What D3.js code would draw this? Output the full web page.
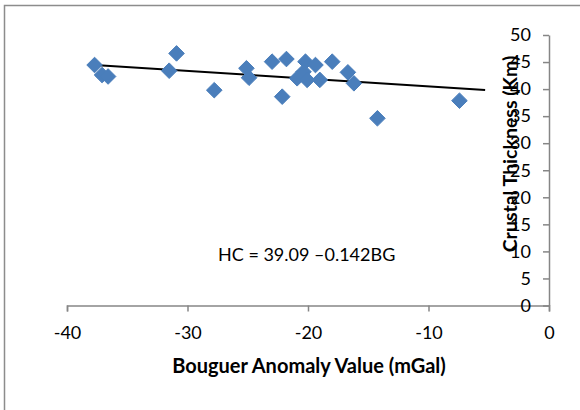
<!DOCTYPE html>
<html><head><meta charset="utf-8">
<script src="https://cdn.jsdelivr.net/npm/d3@7"></script>
<style>body{margin:0;background:#fff}svg{display:block}text{font-family:Lato,"Open Sans",sans-serif}</style>
</head><body>
<svg id="c" width="580" height="410"></svg>
<script>
const bouguer = [-37.71,-37.09,-36.59,-31.52,-30.91,-27.78,-25.11,-24.89,-22.98,-22.14,-21.79,-20.9,-20.37,-20.21,-20.07,-19.38,-19.02,-17.99,-16.69,-16.19,-14.24,-7.43];
const thickness = [44.45,42.6,42.33,43.4,46.6,39.8,43.85,42.1,45.07,38.6,45.56,42.0,43.2,45.07,41.7,44.45,41.7,45.07,43.1,41.07,34.6,37.86];
const xTicks = [-40,-30,-20,-10,0];
const yTicks = [0,5,10,15,20,25,30,35,40,45,50];
const trendIntercept = 39.09, trendSlope = -0.142, trendEnd = -5.3;
const eqLabel = "HC = 39.09 \u20130.142BG";
const xTitle = "Bouguer Anomaly Value (mGal)";
const yTitle = "Crustal Thickness (Km)";

const svg = d3.select("#c");
const x = d3.scaleLinear().domain([-40,0]).range([67,549]);
const y = d3.scaleLinear().domain([0,50]).range([305.5,35]);
const axisCol = "#868686";
const fmt = d => String(d);

// chart border (only top/left visible)
svg.append("rect").attr("x",4.5).attr("y",5.5).attr("width",600).attr("height",420)
  .attr("fill","none").attr("stroke","#8c8c8c").attr("stroke-width",1.5);

// x axis
const gx = svg.append("g").attr("transform",`translate(0,${y(0)})`)
  .call(d3.axisBottom(x).tickValues(xTicks).tickSize(6).tickPadding(15).tickFormat(fmt));
gx.select(".domain").attr("stroke",axisCol).attr("stroke-width",1.5);
gx.selectAll(".tick line").attr("stroke",axisCol).attr("stroke-width",1.5);
gx.selectAll(".tick text").attr("font-size",18).attr("fill","#000").attr("font-family","Lato,sans-serif");

// y axis at x = 0 (right), labels on left
const gy = svg.append("g").attr("transform",`translate(${x(0)},0)`)
  .call(d3.axisLeft(y).tickValues(yTicks).tickSize(0).tickPadding(18).tickFormat(fmt));
gy.select(".domain").attr("stroke",axisCol).attr("stroke-width",1.5);
gy.selectAll(".tick text").attr("font-size",18).attr("fill","#000").attr("font-family","Lato,sans-serif");
gy.selectAll(".tick").append("line").attr("x1",-6).attr("x2",0).attr("stroke",axisCol).attr("stroke-width",1.5);

// trendline
svg.append("line")
  .attr("x1",x(d3.min(bouguer))).attr("y1",y(trendIntercept + trendSlope*d3.min(bouguer)))
  .attr("x2",x(trendEnd)).attr("y2",y(trendIntercept + trendSlope*trendEnd))
  .attr("stroke","#000").attr("stroke-width",2);

// points
const pts = bouguer.map((b,i)=>({b,t:thickness[i]}));
const s = 7.8;
svg.append("g").selectAll("path").data(pts).join("path")
  .attr("d",`M0,${-s}L${s},0L0,${s}L${-s},0Z`)
  .attr("transform",d=>`translate(${x(d.b)},${y(d.t)})`)
  .attr("fill","#4a7ebb").attr("stroke","#4a7ebb").attr("stroke-width",1);

// equation
svg.append("text").attr("x",218).attr("y",261).attr("font-size",18)
  .attr("fill","#000").text(eqLabel);

// titles
svg.append("text").attr("x",309).attr("y",373).attr("text-anchor","middle")
  .attr("font-size",20).attr("font-weight","bold").attr("fill","#000").text(xTitle);
svg.append("text").attr("transform","translate(517,154) rotate(-90)").attr("text-anchor","middle")
  .attr("font-size",19.5).attr("font-weight","bold").attr("fill","#000").text(yTitle);
</script>
</body></html>
